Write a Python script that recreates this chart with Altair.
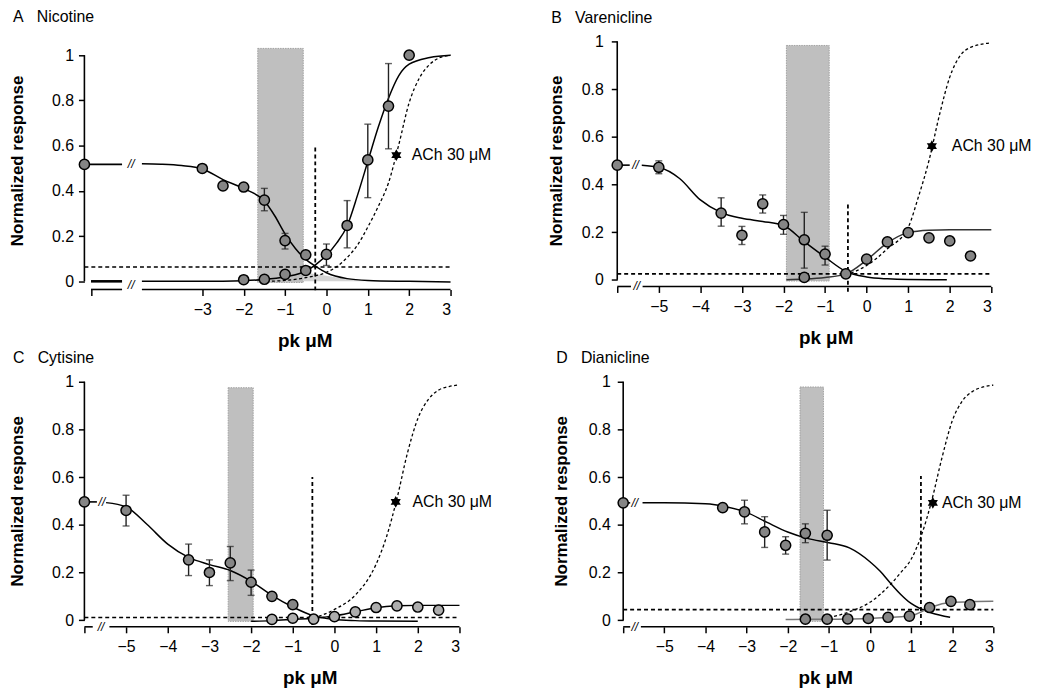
import altair as alt
import pandas as pd

FONT = "Liberation Sans"
STAR = ("M0,-1L0.2887,-0.5L0.866,-0.5L0.5774,0L0.866,0.5L0.2887,0.5L0,1"
        "L-0.2887,0.5L-0.866,0.5L-0.5774,0L-0.866,-0.5L-0.2887,-0.5Z")
DARK = "#858585"
LIGHT = "#adadad"
ACH_LABEL = "ACh 30 \u03bcM"
Y_TICKS = [0, 0.2, 0.4, 0.6, 0.8, 1.0]
FULL_TICKS = [-6, -5, -4, -3, -2, -1, 0, 1, 2, 3]

# ---------------- Panel A : Nicotine ----------------
A_title = "A\u00a0\u00a0\u00a0Nicotine"
A_xdom = [-5.85, 3.0]
A_ydom = [-0.036, 1.061]
A_xticks = [-5.69, -3, -2, -1, 0, 1, 2, 3]
A_up_x = [-5.85, -3.0, -2.5, -2.0, -1.5, -1.0, -0.5]
A_up_y = [0.517, 0.499, 0.422, 0.417, 0.359, 0.18, 0.117]
A_lo_x = [-2.0, -1.5, -1.0, -0.5, 0.0, 0.5, 1.0, 1.5, 2.0]
A_lo_y = [0.007, 0.009, 0.031, 0.048, 0.119, 0.247, 0.537, 0.775, 1.0]
A_err_x = [-1.5, -1.0, 0.0, 0.5, 1.0, 1.5]
A_err_lo = [0.312, 0.143, 0.07, 0.148, 0.37, 0.586]
A_err_hi = [0.411, 0.212, 0.165, 0.357, 0.695, 0.963]
A_fit1_x = [-4.46, -4.0, -3.5, -3.0, -2.5, -2.0, -1.5, -1.25, -1.0, -0.75, -0.5, -0.25, 0.0, 0.5, 1.0, 2.0, 3.0]
A_fit1_y = [0.52, 0.518, 0.512, 0.497, 0.45, 0.41, 0.355, 0.29, 0.21, 0.145, 0.097, 0.065, 0.038, 0.012, 0.004, 0.0, -0.003]
A_fit2_x = [-4.46, -3.0, -2.0, -1.5, -1.0, -0.5, -0.25, 0.0, 0.25, 0.5, 0.75, 1.0, 1.25, 1.5, 1.75, 2.0, 2.5, 3.0]
A_fit2_y = [0.0, 0.0, 0.003, 0.008, 0.02, 0.045, 0.075, 0.115, 0.17, 0.245, 0.38, 0.53, 0.68, 0.81, 0.91, 0.96, 0.99, 1.0]
A_ach_x = [-1.45, -1.0, -0.5, 0.0, 0.25, 0.5, 0.75, 1.0, 1.25, 1.5, 1.75, 2.0, 2.25, 2.5, 2.75, 3.0]
A_ach_y = [0.0, 0.004, 0.016, 0.04, 0.065, 0.105, 0.16, 0.24, 0.33, 0.435, 0.605, 0.79, 0.9, 0.96, 0.99, 1.0]
A_shade_x = [-0.56, 0.0, 0.5, 0.95]
A_shade_y = [0.04, 0.025, 0.01, 0.0]
A_rect = [-1.66, -0.56, -0.005, 1.03]
A_hline = 0.063
A_vline = [-0.27, -0.04, 0.593]
A_star = [1.69, 0.558]
A_text_x = 2.06
A_seg_x1 = [-5.85, -5.69, -5.69, -4.46]
A_seg_x2 = [-4.94, -4.94, -4.94, 3.0]
A_seg_y = [0.517, 0.0, -0.036, -0.036]
A_seg_w = [1.6, 2.6, 1.6, 1.6]
A_brk_x = [-4.72, -4.72]
A_brk_y = [0.517, -0.017]

# ---------------- Panel B : Varenicline ----------------
B_title = "B\u00a0\u00a0\u00a0Varenicline"
B_xdom = [-6.0, 3.0]
B_ydom = [-0.028, 1.0]
B_up_x = [-6.0, -5.0, -3.5, -3.0, -2.5, -2.0, -1.5, -1.0, -0.5]
B_up_y = [0.481, 0.472, 0.28, 0.187, 0.319, 0.232, 0.168, 0.108, 0.025]
B_lo_x = [-1.5, 0.0, 0.5, 1.0, 1.5, 2.0, 2.5]
B_lo_y = [0.01, 0.087, 0.159, 0.198, 0.176, 0.163, 0.1]
B_err_x = [-5.0, -3.5, -3.0, -2.5, -2.0, -1.5, -1.0]
B_err_lo = [0.445, 0.225, 0.148, 0.28, 0.191, 0.049, 0.062]
B_err_hi = [0.499, 0.344, 0.224, 0.356, 0.27, 0.283, 0.141]
B_fit1_x = [-5.41, -5.0, -4.5, -4.0, -3.5, -3.0, -2.5, -2.0, -1.5, -1.0, -0.5, 0.0, 0.5, 1.0, 1.93]
B_fit1_y = [0.481, 0.472, 0.425, 0.335, 0.282, 0.258, 0.245, 0.228, 0.16, 0.095, 0.035, 0.012, 0.004, 0.001, 0.0]
B_fit2_x = [-1.93, -1.5, -1.0, -0.5, 0.0, 0.5, 1.0, 1.5, 2.0, 3.0]
B_fit2_y = [0.0, 0.003, 0.01, 0.025, 0.083, 0.155, 0.198, 0.208, 0.21, 0.21]
B_ach_x = [-0.5, 0.0, 0.5, 1.0, 1.25, 1.5, 1.75, 2.0, 2.25, 2.5, 3.0]
B_ach_y = [0.02, 0.06, 0.13, 0.22, 0.35, 0.5, 0.69, 0.85, 0.94, 0.975, 0.994]
B_rect = [-1.93, -0.9, -0.005, 0.983]
B_hline = 0.025
B_vline = [-0.45, -0.05, 0.318]
B_star = [1.57, 0.561]
B_text_x = 2.05
B_seg_x1 = [-6.0, -6.0, -5.39]
B_seg_x2 = [-5.7, -5.67, 3.0]
B_seg_y = [0.481, -0.028, -0.028]
B_seg_w = [1.6, 1.6, 1.6]
B_brk_x = [-5.56, -5.53]
B_brk_y = [0.481, -0.028]

# ---------------- Panel C : Cytisine ----------------
C_title = "C\u00a0\u00a0\u00a0Cytisine"
C_xdom = [-6.0, 3.0]
C_ydom = [-0.028, 1.0]
C_up_x = [-6.0, -5.0, -3.5, -3.0, -2.5, -2.0, -1.5, -1.0]
C_up_y = [0.496, 0.46, 0.253, 0.2, 0.24, 0.159, 0.1, 0.065]
C_lo_x = [-1.5, -1.0, -0.5, 0.0, 0.5, 1.0, 1.5, 2.0, 2.5]
C_lo_y = [0.003, 0.008, 0.004, 0.015, 0.035, 0.053, 0.06, 0.055, 0.042]
C_err_x = [-5.0, -3.5, -3.0, -2.5, -2.0]
C_err_lo = [0.395, 0.187, 0.145, 0.166, 0.104]
C_err_hi = [0.524, 0.319, 0.253, 0.309, 0.21]
C_fit1_x = [-5.48, -5.0, -4.5, -4.0, -3.5, -3.0, -2.5, -2.0, -1.5, -1.0, -0.5, 0.0, 0.5, 1.0, 2.0]
C_fit1_y = [0.493, 0.475, 0.402, 0.319, 0.263, 0.233, 0.208, 0.163, 0.104, 0.055, 0.018, 0.003, -0.002, -0.004, -0.005]
C_fit2_x = [-2.0, -1.5, -1.0, -0.5, 0.0, 0.5, 1.0, 1.5, 2.0, 2.5, 3.0]
C_fit2_y = [-0.005, -0.002, 0.003, 0.008, 0.018, 0.035, 0.052, 0.06, 0.062, 0.062, 0.062]
C_ach_x = [-0.5, 0.0, 0.5, 1.0, 1.25, 1.5, 1.75, 2.0, 2.25, 2.5, 2.75, 3.0]
C_ach_y = [0.008, 0.045, 0.105, 0.235, 0.35, 0.51, 0.7, 0.845, 0.925, 0.965, 0.98, 0.987]
C_rect = [-2.55, -1.95, -0.005, 0.975]
C_hline = 0.011
C_vline = [-0.53, -0.02, 0.6]
C_star = [1.47, 0.496]
C_text_x = 1.87
C_seg_x1 = [-6.0, -6.0, -5.4]
C_seg_x2 = [-5.7, -5.8, 3.0]
C_seg_y = [0.496, -0.028, -0.028]
C_seg_w = [1.6, 1.6, 1.6]
C_brk_x = [-5.58, -5.6]
C_brk_y = [0.496, -0.028]

# ---------------- Panel D : Dianicline ----------------
D_title = "D\u00a0\u00a0\u00a0Dianicline"
D_xdom = [-6.0, 3.0]
D_ydom = [-0.028, 1.0]
D_up_x = [-6.0, -3.58, -3.05, -2.56, -2.05, -1.57, -1.04]
D_up_y = [0.492, 0.472, 0.454, 0.37, 0.314, 0.364, 0.356]
D_lo_x = [-1.57, -1.04, -0.54, -0.04, 0.44, 0.96, 1.45, 1.97, 2.43]
D_lo_y = [0.004, 0.004, 0.005, 0.007, 0.012, 0.017, 0.053, 0.079, 0.065]
D_err_x = [-3.05, -2.56, -2.05, -1.57, -1.04]
D_err_lo = [0.404, 0.305, 0.277, 0.325, 0.252]
D_err_hi = [0.503, 0.434, 0.35, 0.404, 0.461]
D_fit1_x = [-5.53, -5.0, -4.0, -3.5, -3.0, -2.5, -2.0, -1.5, -1.0, -0.5, 0.0, 0.25, 0.5, 0.75, 1.0, 1.25, 1.5, 1.95]
D_fit1_y = [0.492, 0.492, 0.488, 0.476, 0.452, 0.41, 0.37, 0.342, 0.325, 0.303, 0.245, 0.205, 0.155, 0.108, 0.07, 0.046, 0.03, 0.012]
D_fit2_x = [-2.05, -1.5, -1.0, -0.5, 0.0, 0.5, 1.0, 1.25, 1.5, 2.0, 2.5, 3.0]
D_fit2_y = [0.003, 0.004, 0.004, 0.005, 0.007, 0.012, 0.018, 0.035, 0.055, 0.075, 0.078, 0.079]
D_ach_x = [-1.0, -0.5, 0.0, 0.5, 0.75, 1.0, 1.25, 1.5, 1.75, 2.0, 2.25, 2.5, 2.75, 3.0]
D_ach_y = [0.01, 0.035, 0.075, 0.15, 0.2, 0.255, 0.355, 0.5, 0.68, 0.835, 0.92, 0.96, 0.978, 0.986]
D_rect = [-1.70, -1.13, -0.005, 0.978]
D_hline = 0.044
D_vline = [1.24, -0.02, 0.605]
D_star = [1.53, 0.492]
D_text_x = 1.75
D_seg_x1 = [-6.0, -6.0, -5.57]
D_seg_x2 = [-5.83, -5.83, 3.0]
D_seg_y = [0.492, -0.028, -0.028]
D_seg_w = [1.6, 1.6, 1.6]
D_brk_x = [-5.72, -5.72]
D_brk_y = [0.492, -0.028]


def panel(title, title_offset, xdom, ydom, xticks, width, height, ylab_pad, ytitle_x, xtitle_x,
          up_x, up_y, lo_x, lo_y, lo_fill, err_x, err_lo, err_hi,
          fit1_x, fit1_y, fit2_x, fit2_y, fit2_color, ach_x, ach_y,
          rect, hline, vline, star, text_x, seg_x1, seg_x2, seg_y, seg_w, brk_x, brk_y,
          shade_x=None, shade_y=None):
    xs = alt.Scale(domain=xdom, nice=False, zero=False)
    ys = alt.Scale(domain=ydom, nice=False, zero=False)
    xax = alt.Axis(values=xticks, domain=False, grid=False, tickSize=6, tickWidth=1.5,
                   tickColor="black", labelFont=FONT, labelFontSize=16, labelColor="black",
                   labelPadding=6, labelExpr="datum.value < -5.5 ? '' : format(datum.value, 'd')",
                   title="pk \u03bcM", titleFont=FONT, titleFontSize=19, titleFontWeight="bold",
                   titleColor="black", titleX=xtitle_x, titleY=57, titleBaseline="alphabetic")
    yax = alt.Axis(values=Y_TICKS, domain=False, grid=False, tickSize=6, tickWidth=1.5,
                   tickColor="black", labelFont=FONT, labelFontSize=16, labelColor="black",
                   labelPadding=ylab_pad,
                   labelExpr="datum.value == 0 ? '0' : datum.value == 1 ? '1' : format(datum.value, '.1f')",
                   title="Normalized response", titleFont=FONT, titleFontSize=17,
                   titleFontWeight="bold", titleColor="black", titleX=ytitle_x, titleY=120,
                   titleBaseline="middle")

    def X(f):
        return alt.X(f, type="quantitative", scale=xs, axis=xax)

    def Y(f):
        return alt.Y(f, type="quantitative", scale=ys, axis=yax)

    L = []
    L.append(alt.Chart(pd.DataFrame({"x": [rect[0]], "x2": [rect[1]], "y": [rect[2]], "y2": [rect[3]]}))
             .mark_rect(fill="#bfbfbf", stroke="#a0a0a0", strokeWidth=1, strokeDash=[1.5, 1])
             .encode(x=X("x"), x2="x2", y=Y("y"), y2="y2"))
    if shade_x is not None:
        L.append(alt.Chart(pd.DataFrame({"x": shade_x, "y": shade_y}))
                 .mark_area(color="#d4d4d4", interpolate="monotone")
                 .encode(x=X("x"), y=Y("y")))
    L.append(alt.Chart(pd.DataFrame({"x": [xdom[0]], "x2": [3.0], "y": [hline]}))
             .mark_rule(color="black", strokeWidth=1.6, strokeDash=[4, 3])
             .encode(x=X("x"), x2="x2", y=Y("y")))
    L.append(alt.Chart(pd.DataFrame({"x": [vline[0]], "y": [vline[1]], "y2": [vline[2]]}))
             .mark_rule(color="black", strokeWidth=1.8, strokeDash=[4, 3])
             .encode(x=X("x"), y=Y("y"), y2="y2"))
    L.append(alt.Chart(pd.DataFrame({"x": ach_x, "y": ach_y}))
             .mark_line(color="black", strokeWidth=1.3, strokeDash=[3, 2.5], interpolate="monotone")
             .encode(x=X("x"), y=Y("y")))
    L.append(alt.Chart(pd.DataFrame({"x": fit1_x, "y": fit1_y}))
             .mark_line(color="black", strokeWidth=1.5, interpolate="monotone")
             .encode(x=X("x"), y=Y("y")))
    L.append(alt.Chart(pd.DataFrame({"x": fit2_x, "y": fit2_y}))
             .mark_line(color=fit2_color, strokeWidth=1.5, interpolate="monotone")
             .encode(x=X("x"), y=Y("y")))
    L.append(alt.Chart(pd.DataFrame({"x": seg_x1, "x2": seg_x2, "y": seg_y, "w": seg_w}))
             .mark_rule(color="black")
             .encode(x=X("x"), x2="x2", y=Y("y"),
                     strokeWidth=alt.StrokeWidth("w:Q", scale=None, legend=None)))
    L.append(alt.Chart(pd.DataFrame({"x": [xdom[0]], "y": [0.0], "y2": [1.0]}))
             .mark_rule(color="black", strokeWidth=1.6)
             .encode(x=X("x"), y=Y("y"), y2="y2"))
    L.append(alt.Chart(pd.DataFrame({"x": err_x, "y": err_lo, "y2": err_hi}))
             .mark_rule(color="#222222", strokeWidth=1.4)
             .encode(x=X("x"), y=Y("y"), y2="y2"))
    L.append(alt.Chart(pd.DataFrame({"x": err_x + err_x, "y": err_lo + err_hi}))
             .mark_tick(orient="horizontal", color="#222222", size=7, thickness=1.4)
             .encode(x=X("x"), y=Y("y")))
    L.append(alt.Chart(pd.DataFrame({"x": lo_x, "y": lo_y}))
             .mark_point(shape="circle", filled=True, fill=lo_fill, stroke="black",
                         strokeWidth=1.5, size=105, opacity=1)
             .encode(x=X("x"), y=Y("y")))
    L.append(alt.Chart(pd.DataFrame({"x": up_x, "y": up_y}))
             .mark_point(shape="circle", filled=True, fill=DARK, stroke="black",
                         strokeWidth=1.5, size=105, opacity=1)
             .encode(x=X("x"), y=Y("y")))
    L.append(alt.Chart(pd.DataFrame({"x": [star[0]], "y": [star[1]]}))
             .mark_point(shape=STAR, filled=True, color="black", size=140, opacity=1)
             .encode(x=X("x"), y=Y("y")))
    L.append(alt.Chart(pd.DataFrame({"x": [text_x], "y": [star[1]], "t": [ACH_LABEL]}))
             .mark_text(align="left", baseline="middle", font=FONT, fontSize=16, color="black")
             .encode(x=X("x"), y=Y("y"), text="t:N"))
    L.append(alt.Chart(pd.DataFrame({"x": brk_x, "y": brk_y, "t": ["//"] * len(brk_x)}))
             .mark_text(align="center", baseline="middle", font=FONT, fontSize=12,
                        fontStyle="italic", color="black")
             .encode(x=X("x"), y=Y("y"), text="t:N"))
    return alt.layer(*L).properties(
        width=width, height=height,
        title=alt.TitleParams(title, anchor="start", font=FONT, fontSize=16, fontWeight="normal",
                              color="black", offset=title_offset, dx=4))


pA = panel(A_title, 17, A_xdom, A_ydom, A_xticks, 369, 250, 5, -67, 222,
           A_up_x, A_up_y, A_lo_x, A_lo_y, DARK, A_err_x, A_err_lo, A_err_hi,
           A_fit1_x, A_fit1_y, A_fit2_x, A_fit2_y, "black", A_ach_x, A_ach_y,
           A_rect, A_hline, A_vline, A_star, A_text_x, A_seg_x1, A_seg_x2, A_seg_y, A_seg_w,
           A_brk_x, A_brk_y, A_shade_x, A_shade_y)
pB = panel(B_title, 8, B_xdom, B_ydom, FULL_TICKS, 377, 247, 8, -61.5, 210,
           B_up_x, B_up_y, B_lo_x, B_lo_y, DARK, B_err_x, B_err_lo, B_err_hi,
           B_fit1_x, B_fit1_y, B_fit2_x, B_fit2_y, "#333333", B_ach_x, B_ach_y,
           B_rect, B_hline, B_vline, B_star, B_text_x, B_seg_x1, B_seg_x2, B_seg_y, B_seg_w,
           B_brk_x, B_brk_y)
pC = panel(C_title, 8, C_xdom, C_ydom, FULL_TICKS, 378, 247, 5, -67, 227,
           C_up_x, C_up_y, C_lo_x, C_lo_y, LIGHT, C_err_x, C_err_lo, C_err_hi,
           C_fit1_x, C_fit1_y, C_fit2_x, C_fit2_y, "black", C_ach_x, C_ach_y,
           C_rect, C_hline, C_vline, C_star, C_text_x, C_seg_x1, C_seg_x2, C_seg_y, C_seg_w,
           C_brk_x, C_brk_y)
pD = panel(D_title, 8, D_xdom, D_ydom, FULL_TICKS, 373, 247, 7, -62.5, 203.5,
           D_up_x, D_up_y, D_lo_x, D_lo_y, DARK, D_err_x, D_err_lo, D_err_hi,
           D_fit1_x, D_fit1_y, D_fit2_x, D_fit2_y, "#777777", D_ach_x, D_ach_y,
           D_rect, D_hline, D_vline, D_star, D_text_x, D_seg_x1, D_seg_x2, D_seg_y, D_seg_w,
           D_brk_x, D_brk_y)

row1 = alt.hconcat(pA, pB, spacing=55)
row2 = alt.hconcat(pC, pD, spacing=60)
chart = (alt.vconcat(row1, row2, spacing=0)
         .properties(padding={"left": 0, "right": 0, "top": -2, "bottom": 0})
         .configure_view(stroke=None)
         .configure_axis(grid=False))

chart.save("out.html", embed_options={"renderer": "svg", "actions": False})
